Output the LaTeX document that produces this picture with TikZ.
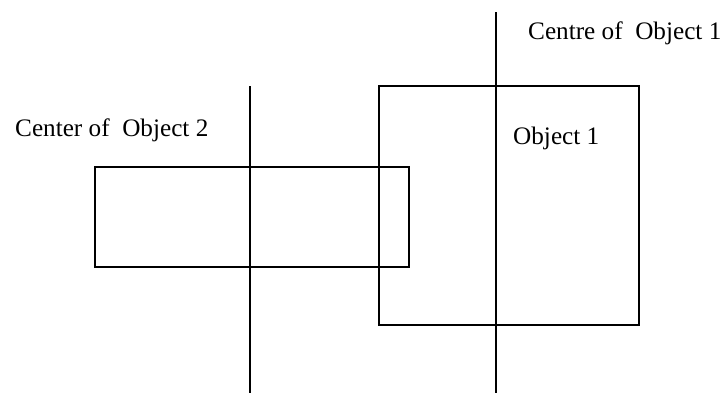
\documentclass[tikz,border=0pt]{standalone}
\usepackage{fontspec}
\setmainfont{Liberation Serif}
\begin{document}
\begin{tikzpicture}[x=1pt,y=-1pt,
  ln/.style={line width=2pt},
  lbl/.style={anchor=base west,inner sep=0pt,font=\fontsize{25.2}{28}\selectfont}]
\useasboundingbox (0,0) rectangle (726,394);
\coordinate (c1t) at (495.5,12);
\coordinate (c1b) at (495.5,393);
\coordinate (c2t) at (250,86);
\coordinate (c2b) at (250,393);
\node[ln,draw,minimum width=260pt,minimum height=239pt,inner sep=0pt,anchor=north west] (obj1) at (378,85) {};
\node[ln,draw,minimum width=314pt,minimum height=100pt,inner sep=0pt,anchor=north west] (obj2) at (94,166) {};
\draw[ln] (c1t) -- (c1b);
\draw[ln] (c2t) -- (c2b);
\node[lbl] (t1) at (528,39) {Centre of\ \ Object 1};
\node[lbl] (t2) at (15,136) {Center of\ \ Object 2};
\node[lbl] (t3) at (513,144) {Object 1};
\end{tikzpicture}
\end{document}
